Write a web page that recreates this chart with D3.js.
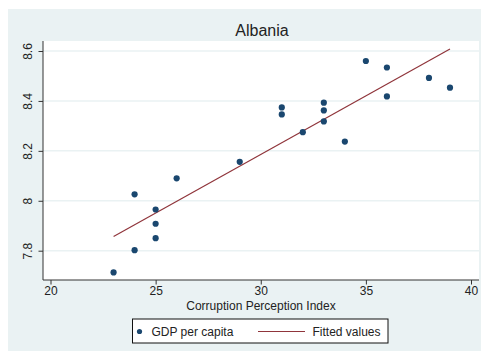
<!DOCTYPE html>
<html>
<head>
<meta charset="utf-8">
<script src="https://cdn.jsdelivr.net/npm/d3@7"></script>
<style>
  html, body { margin: 0; padding: 0; background: #ffffff; }
  svg { display: block; }
  text { font-family: "Liberation Sans", Arial, sans-serif; fill: #222; }
</style>
</head>
<body>
<svg id="chart" width="484" height="351"></svg>
<script>
// Corruption Perception Index vs log GDP per capita, Albania
const cpi = [23, 24, 24, 25, 25, 25, 26, 29, 31, 31, 32, 33, 33, 33, 34, 35, 36, 36, 38, 39];
const gdp = [7.713, 7.802, 8.026, 7.965, 7.908, 7.850, 8.090, 8.156, 8.374, 8.346,
             8.275, 8.393, 8.362, 8.318, 8.237, 8.560, 8.534, 8.418, 8.492, 8.453];
const xTicks = [20, 25, 30, 35, 40];
const yTicks = [7.8, 8.0, 8.2, 8.4, 8.6];
const yTickLabels = ["7.8", "8", "8.2", "8.4", "8.6"];
const title = "Albania";
const xTitle = "Corruption Perception Index";
const legendLabels = ["GDP per capita", "Fitted values"];

const navy = "#1a476f";
const maroon = "#90353b";
const panelBg = "#eaf2f3";

const svg = d3.select("#chart");

// graph region
svg.append("rect").attr("x", 8).attr("y", 9).attr("width", 473).attr("height", 342)
  .attr("fill", panelBg);

// plot region
const plot = { left: 43, top: 41, right: 479, bottom: 280 };
svg.append("rect").attr("x", plot.left).attr("y", plot.top)
  .attr("width", plot.right - plot.left).attr("height", plot.bottom - plot.top)
  .attr("fill", "#ffffff");

const x = d3.scaleLinear().domain([20, 40]).range([50.5, 471]);
const y = d3.scaleLinear().domain([7.8, 8.6]).range([250.7, 51]);

// horizontal grid
svg.append("g").selectAll("line").data(yTicks).join("line")
  .attr("x1", plot.left).attr("x2", plot.right)
  .attr("y1", d => y(d)).attr("y2", d => y(d))
  .attr("stroke", panelBg).attr("stroke-width", 1.5);

// least-squares fit of gdp on cpi
const mx = d3.mean(cpi), my = d3.mean(gdp);
const sxy = d3.sum(cpi, (v, i) => (v - mx) * (gdp[i] - my));
const sxx = d3.sum(cpi, v => (v - mx) * (v - mx));
const slope = sxy / sxx, intercept = my - slope * mx;
const fitX = d3.extent(cpi);
const fitted = fitX.map(v => [v, intercept + slope * v]);

svg.append("path")
  .datum(fitted)
  .attr("d", d3.line().x(d => x(d[0])).y(d => y(d[1])))
  .attr("fill", "none").attr("stroke", maroon).attr("stroke-width", 1.2);

// scatter points
svg.append("g").selectAll("circle").data(cpi.map((v, i) => [v, gdp[i]])).join("circle")
  .attr("cx", d => x(d[0])).attr("cy", d => y(d[1])).attr("r", 3.1)
  .attr("fill", navy);

// axes
const xAxis = svg.append("g").attr("transform", `translate(0,${plot.bottom})`)
  .call(d3.axisBottom(x).tickValues(xTicks).tickSize(4.5).tickSizeOuter(0).tickPadding(2));
xAxis.select(".domain").attr("d", `M${plot.left},0H${plot.right}`).attr("stroke", "#333");
xAxis.selectAll(".tick line").attr("stroke", "#333");
xAxis.selectAll("text").attr("font-size", 12).attr("fill", "#222");

const yAxis = svg.append("g").attr("transform", `translate(${plot.left},0)`)
  .call(d3.axisLeft(y).tickValues(yTicks).tickFormat((d, i) => yTickLabels[i])
    .tickSize(4.5).tickSizeOuter(0));
yAxis.select(".domain").attr("d", `M0,${plot.top}V${plot.bottom}`).attr("stroke", "#333");
yAxis.selectAll(".tick line").attr("stroke", "#333");
yAxis.selectAll(".tick text")
  .attr("x", null).attr("dy", null)
  .attr("transform", "translate(-11,0) rotate(-90)")
  .attr("text-anchor", "middle")
  .attr("font-size", 12).attr("fill", "#222");

// titles
const midX = (plot.left + plot.right) / 2;
svg.append("text").attr("x", midX + 1).attr("y", 36).attr("text-anchor", "middle")
  .attr("font-size", 16).attr("fill", "#1f2a36").text(title);
svg.append("text").attr("x", midX).attr("y", 310).attr("text-anchor", "middle")
  .attr("font-size", 12).text(xTitle);

// legend
const lg = svg.append("g");
lg.append("rect").attr("x", 132.5).attr("y", 319).attr("width", 255.5).attr("height", 24)
  .attr("fill", "#ffffff").attr("stroke", "#111").attr("stroke-width", 1);
lg.append("circle").attr("cx", 139.5).attr("cy", 331.5).attr("r", 2.6).attr("fill", navy);
lg.append("text").attr("x", 151.5).attr("y", 335.5).attr("font-size", 12).text(legendLabels[0]);
lg.append("line").attr("x1", 258).attr("x2", 305).attr("y1", 331.5).attr("y2", 331.5)
  .attr("stroke", maroon).attr("stroke-width", 1.2);
lg.append("text").attr("x", 312.5).attr("y", 335.5).attr("font-size", 12).text(legendLabels[1]);
</script>
</body>
</html>
